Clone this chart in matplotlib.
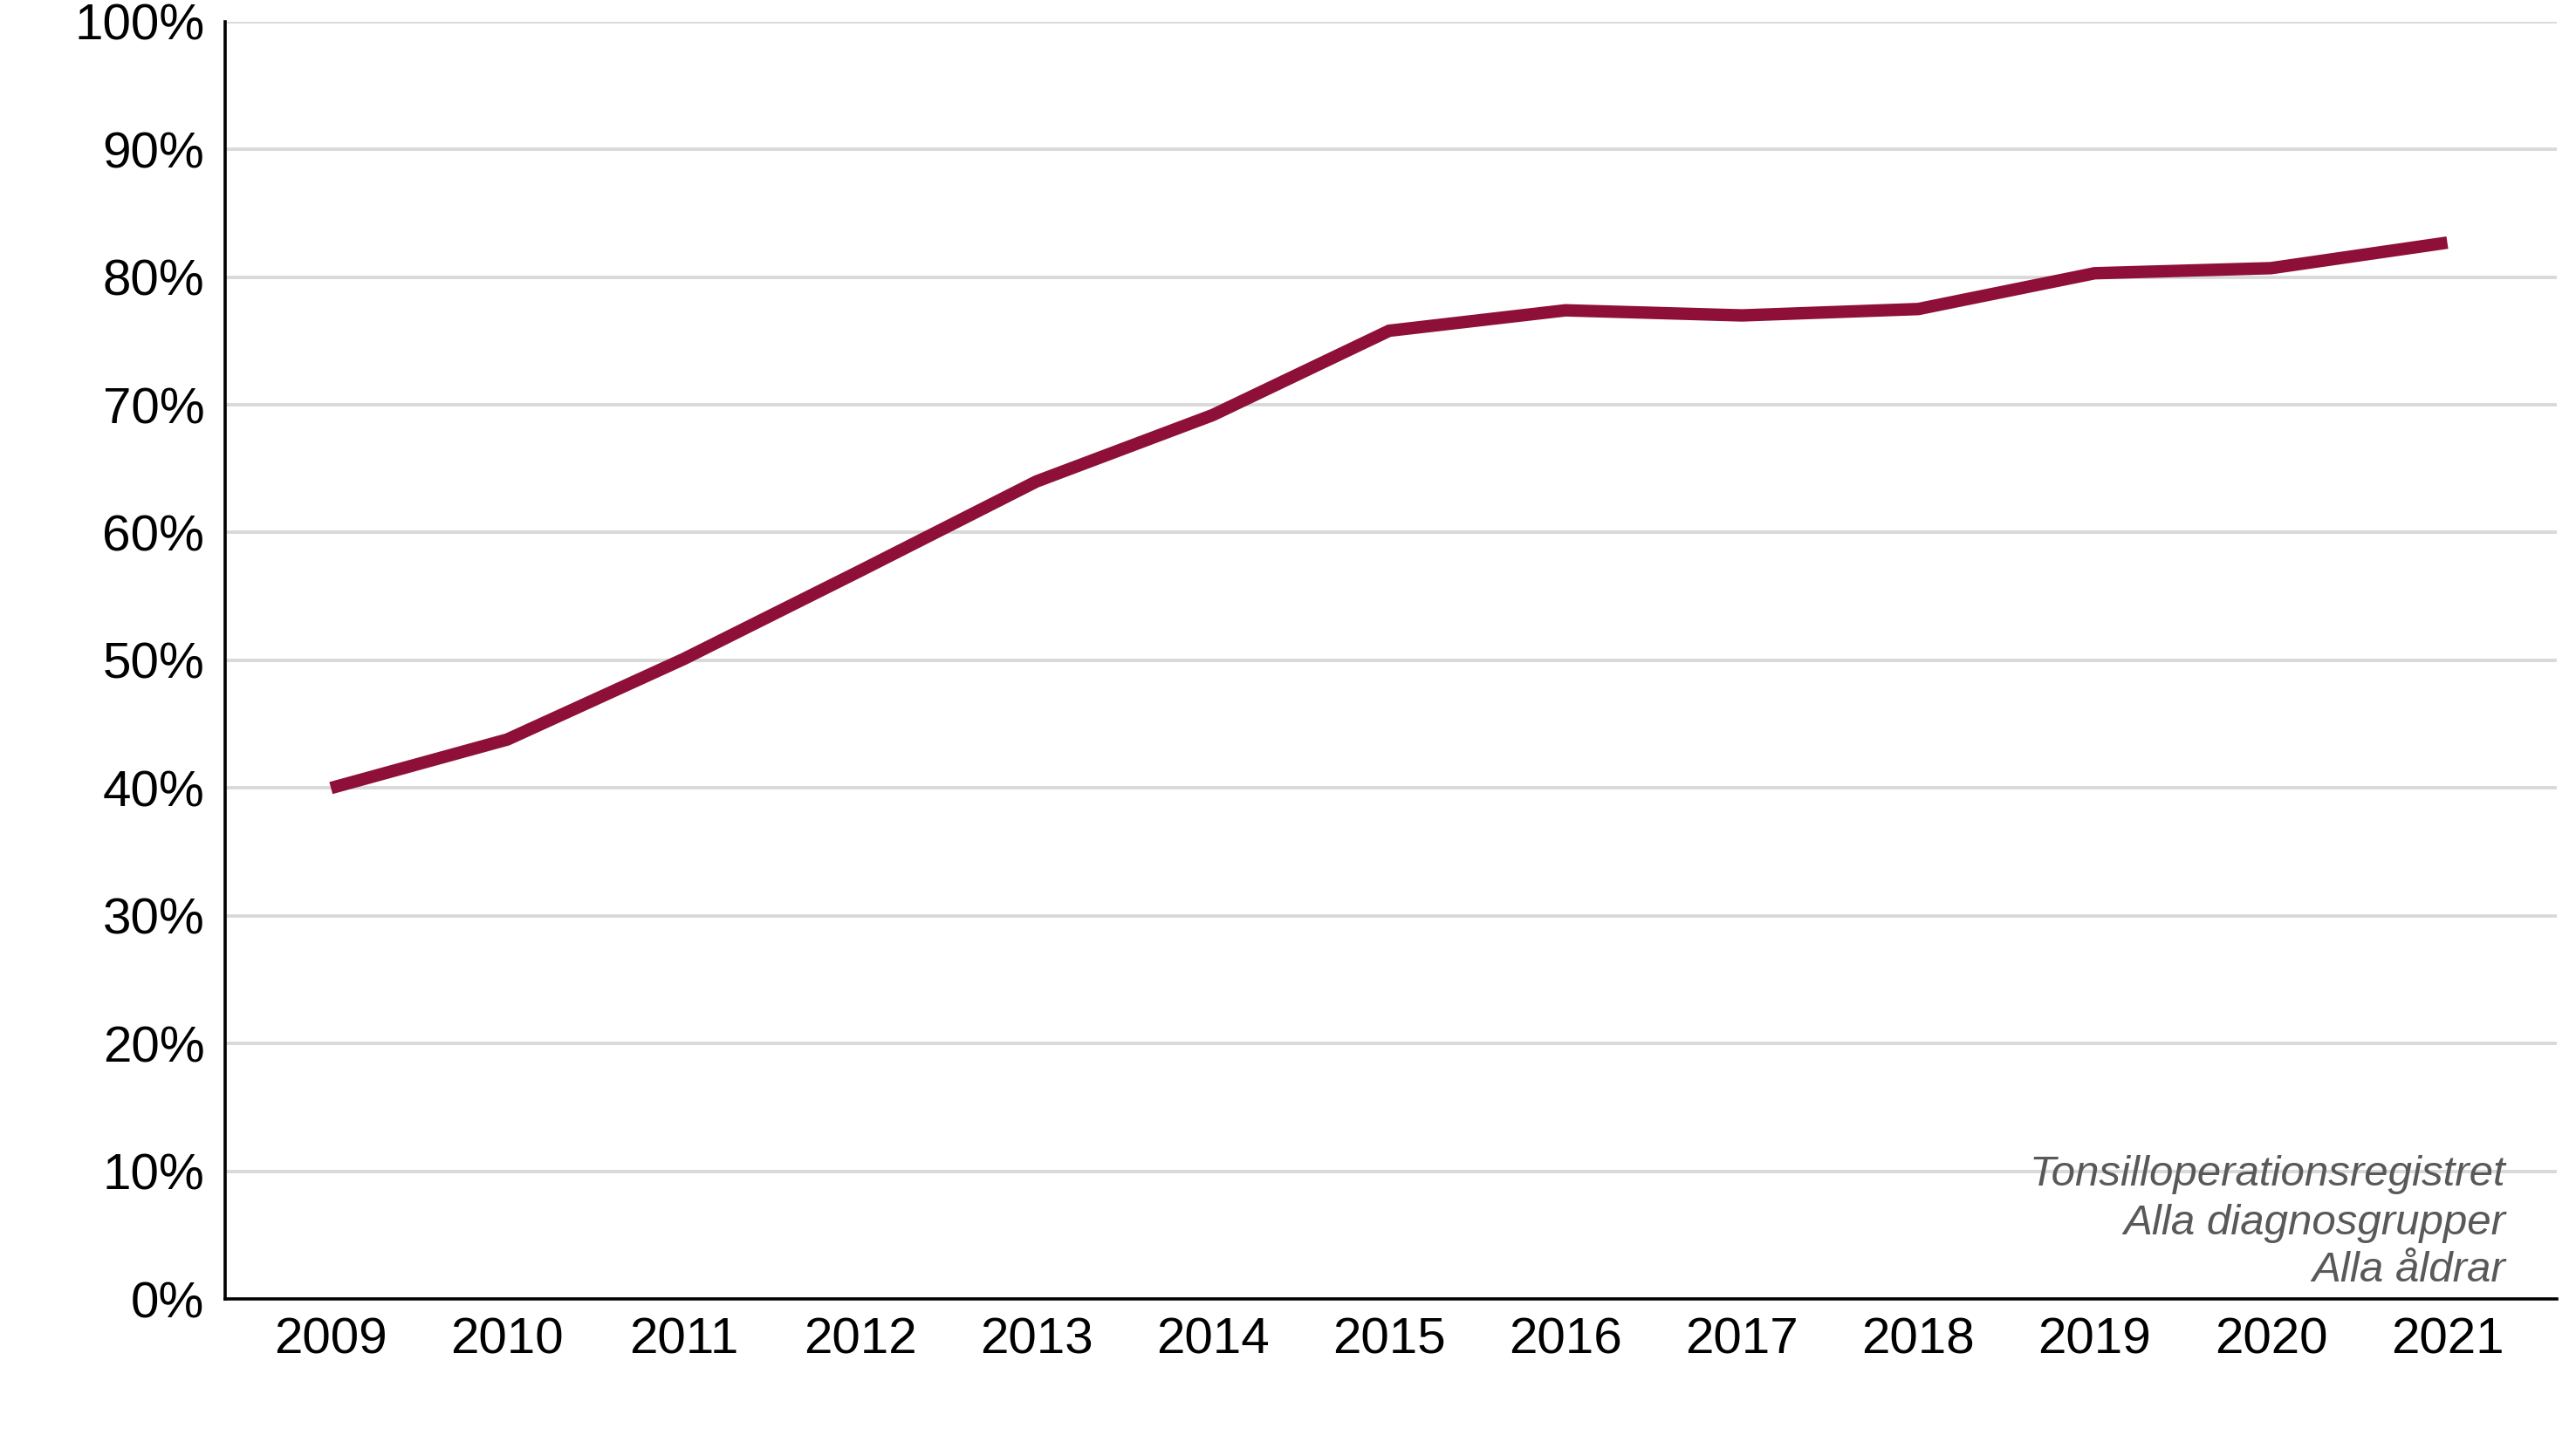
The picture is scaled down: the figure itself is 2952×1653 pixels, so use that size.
import matplotlib
matplotlib.use("Agg")
import matplotlib.pyplot as plt
from matplotlib.ticker import FuncFormatter

years = ["2009", "2010", "2011", "2012", "2013", "2014", "2015",
         "2016", "2017", "2018", "2019", "2020", "2021"]
values = [40.0, 43.8, 50.1, 57.0, 64.0, 69.2, 75.8, 77.4, 77.0, 77.5, 80.3, 80.7, 82.7]
yticks = [0, 10, 20, 30, 40, 50, 60, 70, 80, 90, 100]
notes = ["Tonsilloperationsregistret", "Alla diagnosgrupper", "Alla åldrar"]

plt.rcParams['font.family'] = ['Liberation Sans', 'DejaVu Sans']

fig = plt.figure(figsize=(29.52, 16.53), dpi=100)
ax = fig.add_axes([0.0874, 0.0992, 0.9925 - 0.0874, 0.985 - 0.0992])

x = list(range(len(years)))
ax.plot(x, values, color='#8E1039', linewidth=10.3,
        solid_joinstyle='miter', solid_capstyle='butt', zorder=3)

ax.set_xlim(-0.6, 12.62)
ax.set_ylim(0, 100)
ax.set_yticks(yticks)
ax.yaxis.set_major_formatter(FuncFormatter(lambda v, p: f"{int(v)}%"))
ax.set_xticks(x)
ax.set_xticklabels(years)

ax.grid(axis='y', color='#d9d9d9', linewidth=2.8, zorder=0)
ax.set_axisbelow(True)
for s in ['top', 'right']:
    ax.spines[s].set_visible(False)
for s in ['left', 'bottom']:
    ax.spines[s].set_color('black')
    ax.spines[s].set_linewidth(2.6)
    ax.spines[s].set_zorder(4)

ax.tick_params(axis='both', length=0, labelsize=42, colors='black')
ax.tick_params(axis='y', pad=17)
ax.tick_params(axis='x', pad=15)

ys = [0.097, 0.0588, 0.0225]
for t, yy in zip(notes, ys):
    ax.text(0.978, yy, t, transform=ax.transAxes, ha='right', va='center',
            fontsize=35.5, fontstyle='italic', color='#595959', zorder=5)

fig.savefig("out.png", dpi=100, facecolor='white')
